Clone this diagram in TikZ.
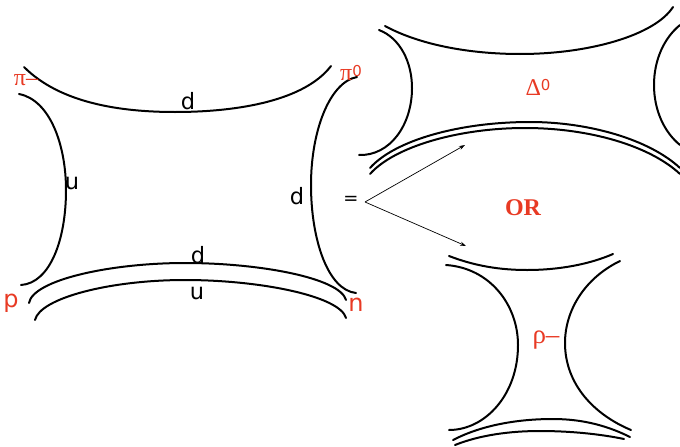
\documentclass[tikz,border=0pt]{standalone}
\usepackage{fontspec}
\setmainfont{DejaVu Sans}
\newfontfamily\serifred{Liberation Serif}
\definecolor{lab}{RGB}{232,58,36}
\usetikzlibrary{arrows.meta}
\tikzset{
  quark/.style={draw=black,line width=2pt,line cap=round},
  qlab/.style={text=black,font=\fontsize{22.5}{24}\selectfont,inner sep=0pt},
  hadron/.style={text=lab,font=\fontsize{24}{26}\selectfont,inner sep=0pt},
  greek/.style={text=lab,font=\serifred\fontsize{24}{26}\selectfont,inner sep=0pt},
  thin arrow/.style={draw=black,line width=0.7pt,-{Stealth[length=6pt,width=4pt]}}
}
\begin{document}
\begin{tikzpicture}[x=1pt,y=-1pt]
\useasboundingbox (0,0) rectangle (680,447);
% left diagram
\draw[quark] (24,67) .. controls (60,103) and (120,112) .. (175,112) .. controls (240,112) and (305,100) .. (331,66);
\draw[quark] (19,94) .. controls (50,100) and (66,145) .. (66,190) .. controls (66,240) and (50,283) .. (21,285);
\draw[quark] (357,77) .. controls (330,82) and (311,130) .. (311,185) .. controls (311,240) and (328,290) .. (356,293);
\draw[quark] (29,303) .. controls (33,280) and (110,263) .. (185,263) .. controls (260,263) and (340,278) .. (346,300);
\draw[quark] (35,320) .. controls (40,298) and (110,280) .. (185,280) .. controls (260,280) and (340,296) .. (346,318);
% upper right
\draw[quark] (385,26) .. controls (420,45) and (470,54) .. (520,54) .. controls (590,54) and (655,35) .. (673,7);
\draw[quark] (379,30) .. controls (400,38) and (412,62) .. (412,88) .. controls (412,125) and (390,156) .. (359,155);
\draw[quark] (680,25) .. controls (664,38) and (654,60) .. (654,85) .. controls (654,110) and (664,132) .. (680,145);
\draw[quark] (370,168) .. controls (395,140) and (460,122) .. (530,122) .. controls (590,122) and (650,140) .. (680,168);
\draw[quark] (370,174) .. controls (395,146) and (460,128) .. (525,128) .. controls (590,128) and (650,146) .. (680,174);
% lower right
\draw[quark] (449,256) .. controls (475,266) and (500,270) .. (527,270) .. controls (560,270) and (590,264) .. (613,254);
\draw[quark] (446,265) .. controls (490,268) and (518,305) .. (518,345) .. controls (518,395) and (485,430) .. (449,430);
\draw[quark] (620,261) .. controls (585,278) and (565,310) .. (565,343) .. controls (565,385) and (595,415) .. (631,430);
\draw[quark] (453,440) .. controls (480,426) and (515,419) .. (553,419) .. controls (585,419) and (610,427) .. (630,437);
\draw[quark] (455,445) .. controls (480,435) and (510,431) .. (540,431) .. controls (570,431) and (600,434) .. (624,439);
% labels
\node[qlab] (d1) at (188,101) {d};
\node[qlab] (u1) at (72,183) {u};
\node[qlab] (d2) at (297,196) {d};
\node[qlab] (d3) at (198,255) {d};
\node[qlab] (u2) at (197,293) {u};
\node[qlab,font=\fontsize{18}{20}\selectfont] (eq) at (351,200) {=};
\node[hadron] (p) at (11,303) {p};
\node[hadron] (n) at (356,305) {n};
\node[greek] (pim) at (26,80) {π–};
\node[greek] (piz) at (351,73) {π\raisebox{4pt}{\fontspec{DejaVu Sans}\fontsize{15}{17}\selectfont 0}};
\node[greek] (delta) at (538,87) {Δ\raisebox{5pt}{\fontspec{DejaVu Sans}\fontsize{15}{17}\selectfont 0}};
\node[greek,font=\serifred\fontsize{27}{29}\selectfont] (rho) at (546,340) {ρ–};
\node[text=lab,font=\serifred\bfseries\fontsize{24}{26}\selectfont,inner sep=0pt] (or) at (523,208) {OR};
% arrows
\coordinate (fork) at (365,202);
\coordinate (upend) at (465,145);
\coordinate (downend) at (466,246);
\draw[thin arrow] (fork) -- (upend);
\draw[thin arrow] (fork) -- (downend);
\end{tikzpicture}
\end{document}
